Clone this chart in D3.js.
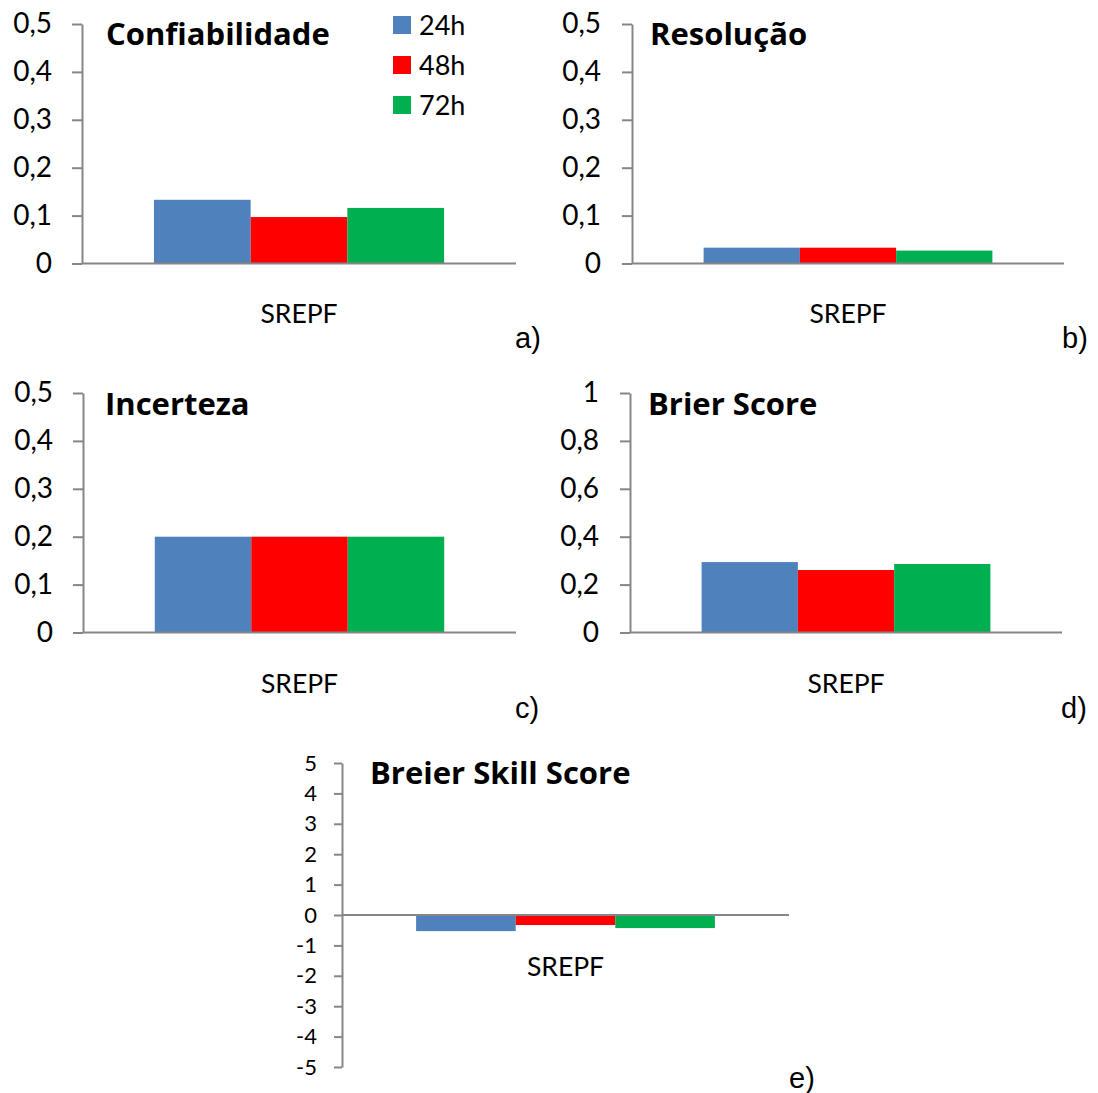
<!DOCTYPE html>
<html>
<head>
<meta charset="utf-8">
<script src="https://cdn.jsdelivr.net/npm/d3@7"></script>
<style>
  html, body { margin: 0; padding: 0; background: #fff; }
  svg { display: block; }
  text { font-variant-ligatures: none; font-feature-settings: "liga" 0; }
  .tick text { font-family: Lato, "Open Sans", sans-serif; fill: #000; }
</style>
</head>
<body>
<svg id="chart" width="1098" height="1093"></svg>
<script>
// Forecast lead times (series) and the single verified system (category)
const series = ["24h", "48h", "72h"];
const categories = ["SREPF"];

// Brier score decomposition per lead time
const confiabilidade = [0.133, 0.097, 0.116];
const resolucao = [0.033, 0.033, 0.027];
const incerteza = [0.2, 0.2, 0.2];
const brierScore = [0.294, 0.261, 0.286];
const brierSkillScore = [-0.53, -0.33, -0.43];

// Tick values for the value axes
const ticksComponents = [0, 0.1, 0.2, 0.3, 0.4, 0.5];
const ticksBrier = [0, 0.2, 0.4, 0.6, 0.8, 1];
const ticksSkill = [-5, -4, -3, -2, -1, 0, 1, 2, 3, 4, 5];

const colors = ["#4F81BD", "#FF0000", "#00B050"];
const axisColor = "#868686";

// Portuguese number format: decimal comma, plain hyphen for negatives
const ptBR = d3.formatLocale({ decimal: ",", thousands: ".", grouping: [3], currency: ["R$", ""], minus: "-" });
const fmt = ptBR.format("~g");

const svg = d3.select("#chart");

const panels = [
  { title: "Confiabilidade", values: confiabilidade, domain: [0, 0.5], ticks: ticksComponents,
    x0: 82, x1: 516, y0: 263.5, y1: 24, tickSize: 10, tickPad: 20, fs: 28,
    titleX: 106, titleY: 45, tag: "a)", tagX: 515, tagY: 348, catY: 323, legend: true },
  { title: "Resolução", values: resolucao, domain: [0, 0.5], ticks: ticksComponents,
    x0: 632, x1: 1064, y0: 263.5, y1: 24, tickSize: 10, tickPad: 21, fs: 28,
    titleX: 650, titleY: 45, tag: "b)", tagX: 1062, tagY: 348, catY: 323 },
  { title: "Incerteza", values: incerteza, domain: [0, 0.5], ticks: ticksComponents,
    x0: 83, x1: 516, y0: 632.5, y1: 393, tickSize: 10, tickPad: 20, fs: 28,
    titleX: 105, titleY: 415, tag: "c)", tagX: 515, tagY: 718, catY: 693 },
  { title: "Brier Score", values: brierScore, domain: [0, 1], ticks: ticksBrier,
    x0: 630, x1: 1062, y0: 632.5, y1: 393, tickSize: 10, tickPad: 21, fs: 28,
    titleX: 648, titleY: 415, tag: "d)", tagX: 1061, tagY: 718, catY: 693 },
  { title: "Breier Skill Score", values: brierSkillScore, domain: [-5, 5], ticks: ticksSkill,
    x0: 342, x1: 789, y0: 1067, y1: 763, tickSize: 8, tickPad: 17, fs: 22,
    titleX: 370, titleY: 784, tag: "e)", tagX: 789, tagY: 1088, catY: 976 }
];

panels.forEach(p => {
  const g = svg.append("g");

  const y = d3.scaleLinear().domain(p.domain).range([p.y0, p.y1]);
  const xCat = d3.scaleBand().domain(categories).range([p.x0, p.x1])
    .paddingInner(0).paddingOuter(0.248);
  const xSer = d3.scaleBand().domain(series).range([0, xCat.bandwidth()]).padding(0);

  // bars
  categories.forEach(cat => {
    g.append("g").selectAll("rect")
      .data(series.map((s, i) => ({ s, v: p.values[i], c: colors[i] })))
      .join("rect")
      .attr("x", d => xCat(cat) + xSer(d.s))
      .attr("width", xSer.bandwidth())
      .attr("y", d => y(Math.max(0, d.v)))
      .attr("height", d => Math.abs(y(d.v) - y(0)))
      .attr("fill", d => d.c);
  });

  // value axis
  const ay = g.append("g")
    .attr("transform", `translate(${p.x0},0)`)
    .call(d3.axisLeft(y).tickValues(p.ticks).tickFormat(fmt)
      .tickSize(p.tickSize).tickPadding(p.tickPad).tickSizeOuter(0));
  ay.select(".domain").attr("stroke", axisColor).attr("stroke-width", 2);
  ay.selectAll(".tick line").attr("stroke", axisColor).attr("stroke-width", 2);
  ay.selectAll(".tick text").attr("font-size", p.fs);

  // category axis line at zero
  g.append("line")
    .attr("x1", p.x0).attr("x2", p.x1)
    .attr("y1", y(0)).attr("y2", y(0))
    .attr("stroke", axisColor).attr("stroke-width", 2);

  // category label
  categories.forEach(cat => {
    g.append("text")
      .attr("x", xCat(cat) + xCat.bandwidth() / 2)
      .attr("y", p.catY)
      .attr("text-anchor", "middle")
      .attr("font-family", "Lato, 'Open Sans', sans-serif")
      .attr("font-size", 26.5)
      .text(cat);
  });

  // panel title
  g.append("text")
    .attr("x", p.titleX).attr("y", p.titleY)
    .attr("font-family", "'Open Sans', Lato, sans-serif")
    .attr("font-weight", "bold")
    .attr("font-size", 31)
    .text(p.title);

  // panel tag
  g.append("text")
    .attr("x", p.tagX).attr("y", p.tagY)
    .attr("font-family", "'Liberation Sans', Arial, sans-serif")
    .attr("font-size", 29)
    .text(p.tag);

  // legend
  if (p.legend) {
    const lg = g.append("g").attr("transform", "translate(393,16)");
    series.forEach((s, i) => {
      lg.append("rect").attr("x", 0).attr("y", i * 40).attr("width", 18).attr("height", 18)
        .attr("fill", colors[i]);
      lg.append("text").attr("x", 26).attr("y", i * 40 + 18.5)
        .attr("font-family", "Lato, 'Open Sans', sans-serif")
        .attr("font-size", 27)
        .text(s);
    });
  }
});
</script>
</body>
</html>
